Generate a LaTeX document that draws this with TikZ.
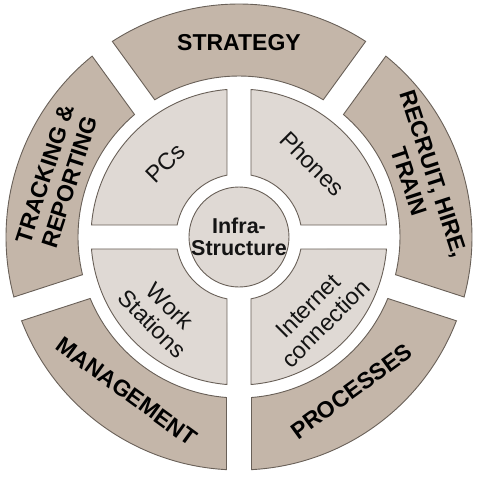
\documentclass[tikz,border=0pt]{standalone}
\usepackage{fontspec}
\setmainfont{Liberation Sans}
\definecolor{outerfill}{RGB}{196,182,169}
\definecolor{innerfill}{RGB}{223,217,212}
\definecolor{edgecol}{RGB}{105,96,88}
\definecolor{textcol}{RGB}{20,20,20}
\newcommand\ringsector[6]{%
 \pgfmathsetmacro\rsA{#3+asin(#5/#1)}%
 \pgfmathsetmacro\rsB{#3+asin(#5/#2)}%
 \pgfmathsetmacro\rsC{#4-asin(#5/#2)}%
 \pgfmathsetmacro\rsD{#4-asin(#5/#1)}%
 \path[#6] (\rsA:#1) -- (\rsB:#2) arc[start angle=\rsB, end angle=\rsC, radius=#2] -- (\rsD:#1) arc[start angle=\rsD, end angle=\rsA, radius=#1] -- cycle;}
\tikzset{
 outerseg/.style={fill=outerfill, draw=edgecol, line width=0.9pt},
 innerseg/.style={fill=innerfill, draw=edgecol, line width=0.9pt},
 outerlabel/.style={font=\fontsize{23}{26}\selectfont\bfseries, text=black, align=center, inner sep=0pt},
 innerlabel/.style={font=\fontsize{23.5}{25}\selectfont, text=textcol, align=center, inner sep=0pt},
 hublabel/.style={font=\fontsize{21.5}{22}\selectfont\bfseries, text=textcol, align=center, inner sep=0pt}
}
\begin{document}
\begin{tikzpicture}[x=1pt,y=1pt]
\useasboundingbox (-239,-243) rectangle (241,237);
% outer ring
\ringsector{161}{233}{54}{126}{12.5}{outerseg}
\ringsector{161}{233}{126}{198}{12.5}{outerseg}
\ringsector{161}{233}{198}{270}{12.5}{outerseg}
\ringsector{161}{233}{270}{342}{12.5}{outerseg}
\ringsector{161}{233}{-18}{54}{12.5}{outerseg}
% inner quadrants
\ringsector{63}{148}{0}{90}{12}{innerseg}
\ringsector{63}{148}{90}{180}{12}{innerseg}
\ringsector{63}{148}{180}{270}{12}{innerseg}
\ringsector{63}{148}{270}{360}{12}{innerseg}
% hub
\node[circle, minimum size=100pt, fill=innerfill, draw=edgecol, line width=0.9pt, inner sep=0pt] (hub) at (0,0) {};
\node[hublabel] (hubtext) at (hub.center) {Infra-\\Structure};
% outer labels
\node[outerlabel, rotate=0] (strategy) at (90:194) {STRATEGY};
\node[outerlabel, rotate=72] (tracking) at (162:191) {TRACKING \&\\REPORTING};
\node[outerlabel, rotate=-36] (management) at (234:191) {MANAGEMENT};
\node[outerlabel, rotate=36] (processes) at (306:191) {PROCESSES};
\node[outerlabel, rotate=-72] (recruit) at (18:192) {RECRUIT, HIRE,\\TRAIN};
% inner labels
\node[innerlabel, rotate=45] (pcs) at (135:104) {PCs};
\node[innerlabel, rotate=-45] (phones) at (45:104) {Phones};
\node[innerlabel, rotate=-45] (work) at (225:110) {Work\\Stations};
\node[innerlabel, rotate=45] (internet) at (315:110) {Internet\\connection};
\end{tikzpicture}
\end{document}
